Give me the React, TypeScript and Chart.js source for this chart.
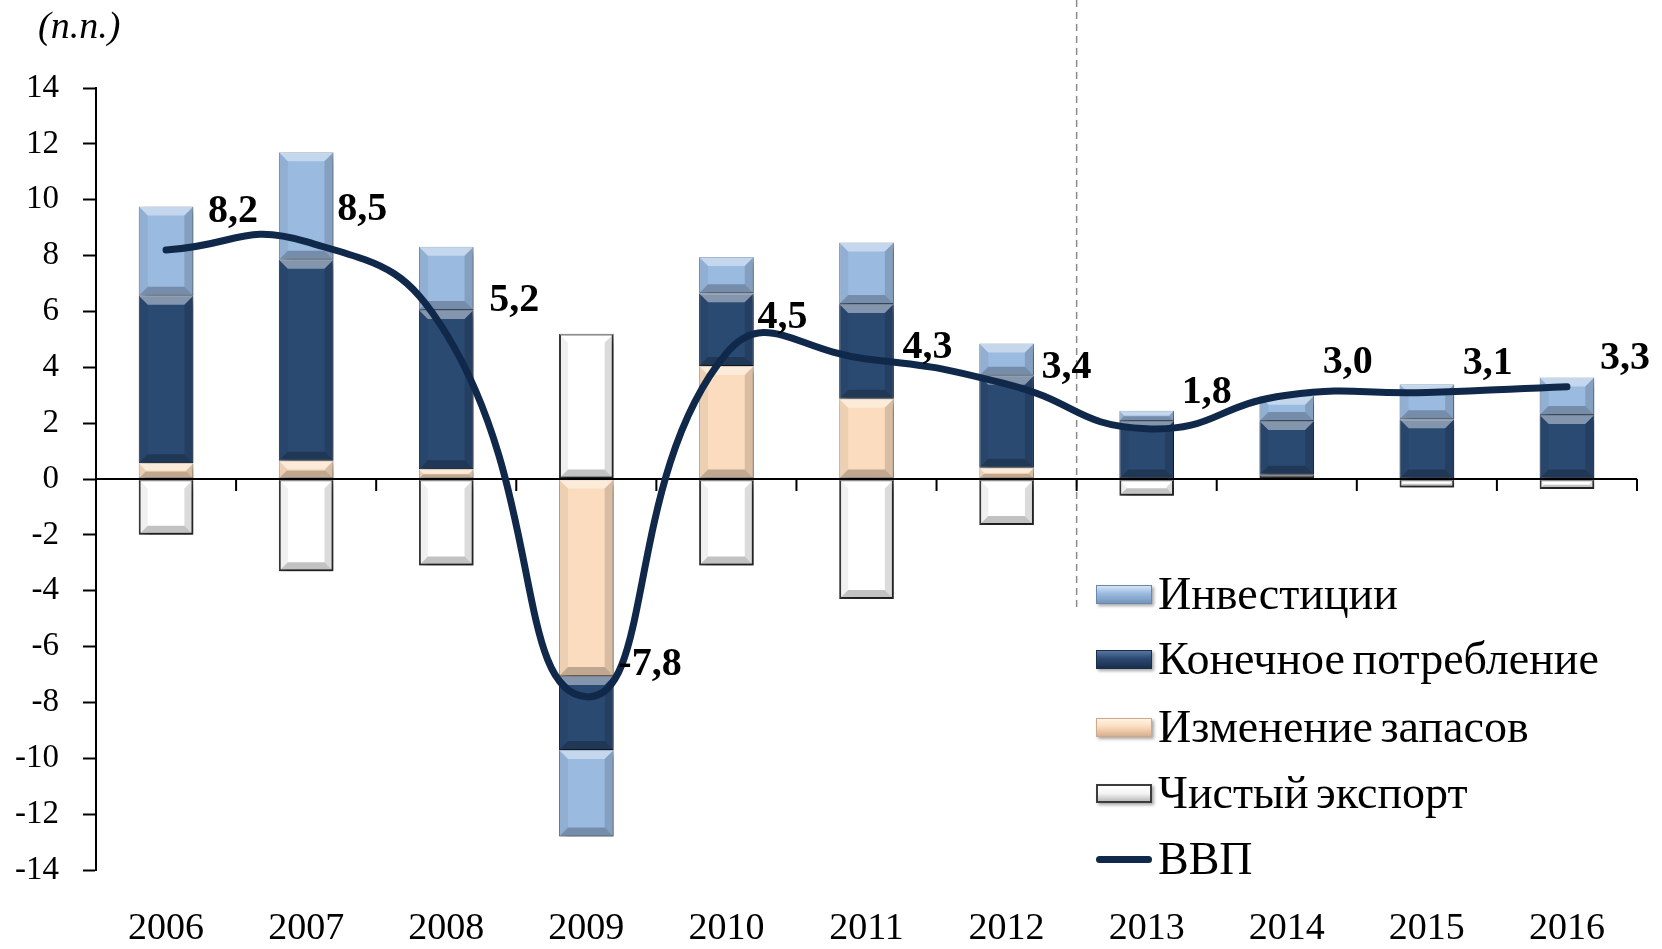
import React, { useEffect, useRef } from "react";
import { Chart, registerables } from "chart.js";

Chart.register(...registerables);

// ---------- data ----------
const YEARS = ["2006", "2007", "2008", "2009", "2010", "2011", "2012", "2013", "2014", "2015", "2016"];
const INVESTMENT = [3.2, 3.85, 2.27, -3.1, 1.3, 2.2, 1.15, 0.36, 0.9, 1.25, 1.34];
const CONSUMPTION = [6.0, 7.2, 5.7, -2.65, 2.6, 3.4, 3.3, 2.08, 1.93, 2.14, 2.29];
const STOCKS = [0.56, 0.65, 0.35, -7.05, 4.05, 2.87, 0.4, 0, 0, 0, 0];
const NET_EXPORT = [-2.0, -3.3, -3.1, 5.2, -3.1, -4.3, -1.65, -0.6, 0.15, -0.3, -0.36];
const GDP = [8.2, 8.5, 5.2, -7.8, 4.5, 4.3, 3.4, 1.8, 3.0, 3.1, 3.3];
const GDP_LABELS = ["8,2", "8,5", "5,2", "-7,8", "4,5", "4,3", "3,4", "1,8", "3,0", "3,1", "3,3"];
const SERIES_NAMES = ["Инвестиции", "Конечное потребление", "Изменение запасов", "Чистый экспорт", "ВВП"];
const Y_MIN = -14;
const Y_MAX = 14;
const Y_STEP = 2;
const UNIT_LABEL = "(п.п.)";

// ---------- layout / style (not data) ----------
const W = 1662;
const H = 949;
const SERIF = '"Liberation Serif", "DejaVu Serif", serif';
const LABEL_OFFSETS: [number, number][] = [
  [42, -28], [31, -22], [43, -23], [32, -22], [31, -25], [36, -1],
  [35, -6], [35, -26], [36, -22], [36, -18], [33, -18],
];
const COLORS = {
  inv: "#9ABAE0",
  invBorder: "#6A88AE",
  cons: "#2B4A72",
  consBorder: "#1A2E4B",
  stock: "#FCDCBE",
  stockBorder: "#CFA987",
  net: "#FFFFFF",
  netBorder: "#3C3C3C",
  gdp: "#10284A",
};

const chartPlugin = {
  id: "customDecor",
  beforeDatasetsDraw(chart: any) {
    const ctx = chart.ctx;
    const xs = chart.scales.x;
    const ys = chart.scales.y;
    const x = (xs.getPixelForValue(6) + xs.getPixelForValue(7)) / 2;
    ctx.save();
    ctx.strokeStyle = "#8a8a8a";
    ctx.lineWidth = 1.5;
    ctx.setLineDash([7, 5]);
    ctx.beginPath();
    ctx.moveTo(x, 0);
    ctx.lineTo(x, ys.getPixelForValue(-4.6));
    ctx.stroke();
    ctx.restore();
  },
  beforeDatasetDraw(chart: any, args: any) {
    const ds = chart.data.datasets[args.index];
    const ctx = chart.ctx;
    if (ds.type === "line") {
      const xs = chart.scales.x;
      const ys = chart.scales.y;
      const y0 = ys.getPixelForValue(0);
      const { left, right } = chart.chartArea;
      const cw = (right - left) / YEARS.length;
      ctx.save();
      ctx.strokeStyle = "#000";
      ctx.lineWidth = 2;
      ctx.beginPath();
      ctx.moveTo(left, y0);
      ctx.lineTo(right, y0);
      for (let i = 0; i < YEARS.length; i++) {
        const bx = xs.getPixelForValue(i) + cw / 2;
        ctx.moveTo(bx, y0);
        ctx.lineTo(bx, y0 + 12);
      }
      ctx.stroke();
      ctx.restore();
      return;
    }
    ctx.save();
    ctx.shadowColor = "rgba(0,0,0,0.38)";
    ctx.shadowBlur = 7;
    ctx.shadowOffsetX = 4;
    ctx.shadowOffsetY = 4;
  },
  afterDatasetDraw(chart: any, args: any) {
    const ds = chart.data.datasets[args.index];
    const ctx = chart.ctx;
    if (ds.type === "line") {
      ctx.save();
      ctx.fillStyle = "#000";
      ctx.font = `bold 40px ${SERIF}`;
      ctx.textAlign = "left";
      ctx.textBaseline = "alphabetic";
      args.meta.data.forEach((el: any, i: number) => {
        const [dx, dy] = LABEL_OFFSETS[i];
        ctx.fillText(GDP_LABELS[i], el.x + dx, el.y + dy);
      });
      ctx.restore();
      return;
    }
    ctx.restore();
    ctx.save();
    args.meta.data.forEach((el: any) => {
      const p = el.getProps(["x", "y", "base", "width"], true);
      const l = p.x - p.width / 2;
      const r = p.x + p.width / 2;
      const t = Math.min(p.y, p.base);
      const b = Math.max(p.y, p.base);
      const h = b - t;
      if (h < 1) return;
      const bv = Math.min(9, h / 2.2, p.width / 2.2);
      const poly = (pts: number[][], fill: string) => {
        ctx.beginPath();
        ctx.moveTo(pts[0][0], pts[0][1]);
        for (let k = 1; k < pts.length; k++) ctx.lineTo(pts[k][0], pts[k][1]);
        ctx.closePath();
        ctx.fillStyle = fill;
        ctx.fill();
      };
      poly([[l, t], [r, t], [r - bv, t + bv], [l + bv, t + bv]], "rgba(255,255,255,0.42)");
      poly([[l, t], [l + bv, t + bv], [l + bv, b - bv], [l, b]], "rgba(0,0,0,0.06)");
      poly([[r, t], [r - bv, t + bv], [r - bv, b - bv], [r, b]], "rgba(0,0,0,0.14)");
      poly([[l, b], [l + bv, b - bv], [r - bv, b - bv], [r, b]], "rgba(0,0,0,0.24)");
    });
    ctx.restore();
  },
};

function Swatch({ kind }: { kind: string }) {
  const base: React.CSSProperties = {
    width: 56,
    height: 19,
    boxSizing: "border-box",
    boxShadow: "2px 2px 3px rgba(0,0,0,0.35)",
  };
  if (kind === "inv")
    return <div style={{ ...base, border: `1px solid ${COLORS.invBorder}`, background: "linear-gradient(#d4e4f7, #9ABAE0 45%, #7796bd)" }} />;
  if (kind === "cons")
    return <div style={{ ...base, border: `1px solid ${COLORS.consBorder}`, background: "linear-gradient(#5676a0, #2B4A72 45%, #1a2e4b)" }} />;
  if (kind === "stock")
    return <div style={{ ...base, border: `1px solid ${COLORS.stockBorder}`, background: "linear-gradient(#fff3e6, #FCDCBE 45%, #d7b08f)" }} />;
  if (kind === "net")
    return <div style={{ ...base, border: `2px solid ${COLORS.netBorder}`, background: "linear-gradient(#ffffff, #f4f4f4 50%, #bdbdbd)" }} />;
  return (
    <div style={{ width: 56, height: 19, display: "flex", alignItems: "center" }}>
      <div style={{ width: 56, height: 7, borderRadius: 4, background: COLORS.gdp }} />
    </div>
  );
}

export default function App() {
  const ref = useRef<HTMLCanvasElement | null>(null);

  useEffect(() => {
    if (!ref.current) return;
    const barCommon = {
      type: "bar" as const,
      stack: "gdpParts",
      order: 1,
      barPercentage: 0.39,
      categoryPercentage: 1,
      borderSkipped: false,
    };
    const chart = new Chart(ref.current, {
      type: "bar",
      data: {
        labels: YEARS,
        datasets: [
          { ...barCommon, label: SERIES_NAMES[3], data: NET_EXPORT, backgroundColor: COLORS.net, borderColor: COLORS.netBorder, borderWidth: 2 },
          { ...barCommon, label: SERIES_NAMES[2], data: STOCKS, backgroundColor: COLORS.stock, borderColor: COLORS.stockBorder, borderWidth: 1 },
          { ...barCommon, label: SERIES_NAMES[1], data: CONSUMPTION, backgroundColor: COLORS.cons, borderColor: COLORS.consBorder, borderWidth: 1 },
          { ...barCommon, label: SERIES_NAMES[0], data: INVESTMENT, backgroundColor: COLORS.inv, borderColor: COLORS.invBorder, borderWidth: 1 },
          {
            type: "line" as const,
            label: SERIES_NAMES[4],
            data: GDP,
            stack: "gdp",
            order: 0,
            borderColor: COLORS.gdp,
            borderWidth: 7,
            borderCapStyle: "round",
            borderJoinStyle: "round",
            tension: 0.5,
            pointRadius: 0,
            fill: false,
          } as any,
        ],
      },
      options: {
        responsive: false,
        animation: false,
        events: [],
        layout: { padding: { left: 0, right: 25, top: 88, bottom: 0 } },
        plugins: { legend: { display: false }, tooltip: { enabled: false } },
        scales: {
          x: {
            stacked: true,
            grid: { display: false },
            border: { display: false },
            ticks: { color: "#000", font: { family: SERIF, size: 38 }, padding: 28, maxRotation: 0 },
            afterFit: (s: any) => {
              s.height = 79;
              s.paddingLeft = 0;
              s.paddingRight = 0;
            },
          },
          y: {
            stacked: true,
            min: Y_MIN,
            max: Y_MAX,
            grid: { drawOnChartArea: false, tickLength: 13, tickColor: "#000", tickWidth: 2 },
            border: { color: "#000", width: 2 },
            ticks: {
              stepSize: Y_STEP,
              color: "#000",
              font: { family: SERIF, size: 33 },
              padding: 24,
              callback: (v: any) => String(v),
            },
            afterFit: (s: any) => {
              s.width = 96;
              s.paddingTop = 0;
              s.paddingBottom = 0;
            },
          },
        },
      },
      plugins: [chartPlugin],
    });
    return () => chart.destroy();
  }, []);

  const legendKinds = ["inv", "cons", "stock", "net", "gdp"];
  const legendY = [594, 659, 727, 793, 859];

  return (
    <div style={{ position: "absolute", left: 0, top: 0, width: W, height: H, background: "#fff", overflow: "hidden" }}>
      <canvas ref={ref} width={W} height={H} style={{ display: "block", width: W, height: H }} />
      <div
        style={{
          position: "absolute",
          left: 38,
          top: 3,
          fontFamily: SERIF,
          fontStyle: "italic",
          fontSize: 38,
          color: "#000",
          lineHeight: "44px",
        }}
      >
        {UNIT_LABEL}
      </div>
      {legendKinds.map((k, i) => (
        <div
          key={k}
          style={{
            position: "absolute",
            left: 1096,
            top: legendY[i] - 25,
            height: 50,
            display: "flex",
            alignItems: "center",
            fontFamily: SERIF,
            fontSize: 46,
            color: "#000",
            whiteSpace: "nowrap",
            wordSpacing: -4,
          }}
        >
          <Swatch kind={k} />
          <span style={{ marginLeft: 6, lineHeight: "50px" }}>{SERIES_NAMES[i]}</span>
        </div>
      ))}
    </div>
  );
}
